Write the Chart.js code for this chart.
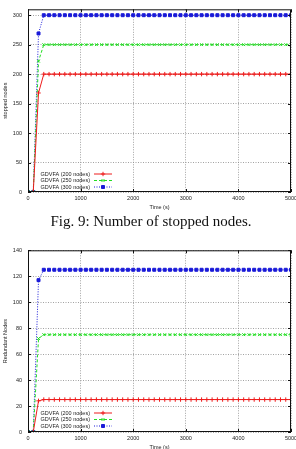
<!DOCTYPE html>
<html>
<head>
<meta charset="utf-8">
<script src="https://cdn.jsdelivr.net/npm/chart.js@4.4.0/dist/chart.umd.min.js"></script>
<style>
  html, body { margin: 0; padding: 0; background: #fff; overflow: hidden; width: 296px; height: 449px; }
  .box { position: absolute; left: 0; width: 310px; height: 215px; }
  #caption { position: absolute; left: 0; width: 302px; top: 213px; text-align: center;
             font: 15px/16px "Liberation Serif", "DejaVu Serif", serif; color: #111; }
</style>
</head>
<body>
<div class="box" style="top:0"><canvas id="stoppedChart"></canvas></div>
<div id="caption">Fig. 9: Number of stopped nodes.</div>
<div class="box" style="top:241px"><canvas id="redundantChart"></canvas></div>
<script>
// time axis (s), one sample every 100 s
const times = [
    0, 100, 200, 300, 400, 500, 600, 700, 800, 900,
    1000, 1100, 1200, 1300, 1400, 1500, 1600, 1700, 1800, 1900,
    2000, 2100, 2200, 2300, 2400, 2500, 2600, 2700, 2800, 2900,
    3000, 3100, 3200, 3300, 3400, 3500, 3600, 3700, 3800, 3900,
    4000, 4100, 4200, 4300, 4400, 4500, 4600, 4700, 4800, 4900, 5000
];

const seriesLabels = ['GDVFA (200 nodes)', 'GDVFA (250 nodes)', 'GDVFA (300 nodes)'];

const xTicks = [0, 1000, 2000, 3000, 4000, 5000];
const stoppedTicks = [0, 50, 100, 150, 200, 250, 300];
const redundantTicks = [0, 20, 40, 60, 80, 100, 120, 140];

// Fig. 9: stopped nodes
const stopped200 = [0, 0, 168,
    200, 200, 200, 200, 200, 200, 200, 200, 200, 200, 200, 200,
    200, 200, 200, 200, 200, 200, 200, 200, 200, 200, 200, 200,
    200, 200, 200, 200, 200, 200, 200, 200, 200, 200, 200, 200,
    200, 200, 200, 200, 200, 200, 200, 200, 200, 200, 200, 200];
const stopped250 = [0, 0, 222,
    250, 250, 250, 250, 250, 250, 250, 250, 250, 250, 250, 250,
    250, 250, 250, 250, 250, 250, 250, 250, 250, 250, 250, 250,
    250, 250, 250, 250, 250, 250, 250, 250, 250, 250, 250, 250,
    250, 250, 250, 250, 250, 250, 250, 250, 250, 250, 250, 250];
const stopped300 = [0, 0, 269,
    300, 300, 300, 300, 300, 300, 300, 300, 300, 300, 300, 300,
    300, 300, 300, 300, 300, 300, 300, 300, 300, 300, 300, 300,
    300, 300, 300, 300, 300, 300, 300, 300, 300, 300, 300, 300,
    300, 300, 300, 300, 300, 300, 300, 300, 300, 300, 300, 300];

// redundant nodes
const redundant200 = [0, 0, 24,
    25, 25, 25, 25, 25, 25, 25, 25, 25, 25, 25, 25,
    25, 25, 25, 25, 25, 25, 25, 25, 25, 25, 25, 25,
    25, 25, 25, 25, 25, 25, 25, 25, 25, 25, 25, 25,
    25, 25, 25, 25, 25, 25, 25, 25, 25, 25, 25, 25];
const redundant250 = [0, 0, 72,
    75, 75, 75, 75, 75, 75, 75, 75, 75, 75, 75, 75,
    75, 75, 75, 75, 75, 75, 75, 75, 75, 75, 75, 75,
    75, 75, 75, 75, 75, 75, 75, 75, 75, 75, 75, 75,
    75, 75, 75, 75, 75, 75, 75, 75, 75, 75, 75, 75];
const redundant300 = [0, 0, 117,
    125, 125, 125, 125, 125, 125, 125, 125, 125, 125, 125, 125,
    125, 125, 125, 125, 125, 125, 125, 125, 125, 125, 125, 125,
    125, 125, 125, 125, 125, 125, 125, 125, 125, 125, 125, 125,
    125, 125, 125, 125, 125, 125, 125, 125, 125, 125, 125, 125];

const FONT = '"Liberation Sans", Arial, sans-serif';
const SMALL = 5.5;

// gnuplot-like line styles: red solid +, green dashed x, blue dotted squares
const styles = [
    { color: '#ee1c1c', dash: [], point: 'cross', radius: 2.2 },
    { color: '#22dd22', dash: [3, 2], point: 'crossRot', radius: 2 },
    { color: '#1a1ad8', dash: [1, 1.5], point: 'rect', radius: 2.1 }
];

function makeDatasets(series) {
    return series.map((vals, i) => ({
        label: seriesLabels[i],
        data: vals.map((v, k) => ({ x: times[k], y: v })),
        borderColor: styles[i].color,
        backgroundColor: styles[i].color,
        borderWidth: 1,
        borderDash: styles[i].dash,
        pointStyle: styles[i].point,
        pointRadius: styles[i].radius,
        pointBorderWidth: 1,
        tension: 0
    }));
}

// box around the plot with inward tics
const frame = {
    id: 'frame',
    afterDraw(chart) {
        const { ctx, chartArea: a, scales } = chart;
        ctx.save();
        ctx.strokeStyle = '#111';
        ctx.lineWidth = 1;
        ctx.setLineDash([]);
        ctx.strokeRect(a.left + 0.5, a.top + 0.5, a.right - a.left - 1, a.bottom - a.top - 1);
        ctx.beginPath();
        scales.x.ticks.forEach(t => {
            const px = Math.round(scales.x.getPixelForValue(t.value)) + 0.5;
            ctx.moveTo(px, a.bottom); ctx.lineTo(px, a.bottom - 3);
            ctx.moveTo(px, a.top); ctx.lineTo(px, a.top + 3);
        });
        scales.y.ticks.forEach(t => {
            const py = Math.round(scales.y.getPixelForValue(t.value)) + 0.5;
            ctx.moveTo(a.left, py); ctx.lineTo(a.left + 3, py);
            ctx.moveTo(a.right, py); ctx.lineTo(a.right - 3, py);
        });
        ctx.stroke();
        ctx.restore();
    }
};

// key in the lower-left corner: text, then line sample with a marker
const insetLegend = {
    id: 'insetLegend',
    afterDatasetsDraw(chart, args, opts) {
        const { ctx, chartArea: a } = chart;
        ctx.save();
        ctx.font = SMALL + 'px ' + FONT;
        ctx.textAlign = 'right';
        ctx.textBaseline = 'middle';
        chart.data.datasets.forEach((ds, i) => {
            const y = a.bottom - opts.firstRow + i * opts.rowStep;
            ctx.fillStyle = '#222';
            ctx.fillText(ds.label, a.left + 62, y);
            ctx.strokeStyle = ds.borderColor;
            ctx.lineWidth = 1;
            ctx.setLineDash(ds.borderDash);
            ctx.beginPath();
            ctx.moveTo(a.left + 66, y);
            ctx.lineTo(a.left + 84, y);
            ctx.stroke();
            ctx.setLineDash([]);
            ctx.fillStyle = ds.backgroundColor;
            Chart.helpers.drawPoint(ctx, {
                pointStyle: ds.pointStyle, radius: ds.pointRadius,
                borderWidth: 1, rotation: 0
            }, a.left + 75, y);
        });
        ctx.restore();
    }
};

function makeChart(id, series, yTitle, yTicks, yMax, xHeight, xTitlePad, firstRow) {
    const tickFont = { family: FONT, size: SMALL };
    return new Chart(document.getElementById(id), {
        type: 'line',
        data: { datasets: makeDatasets(series) },
        plugins: [frame, insetLegend],
        options: {
            responsive: true,
            maintainAspectRatio: false,
            animation: false,
            layout: { padding: { top: 6, right: 19, left: 0, bottom: 0 } },
            plugins: {
                legend: { display: false },
                tooltip: { enabled: false },
                insetLegend: { firstRow: firstRow, rowStep: 6.5 }
            },
            scales: {
                x: {
                    type: 'linear',
                    min: xTicks[0], max: xTicks[xTicks.length - 1],
                    afterBuildTicks: s => { s.ticks = xTicks.map(v => ({ value: v })); },
                    ticks: { font: tickFont, color: '#222', padding: 3, maxRotation: 0,
                             callback: v => String(v) },
                    grid: { color: '#8a8a8a', lineWidth: 0.8, drawTicks: false },
                    border: { display: false, dash: [1, 1.5] },
                    title: { display: true, text: 'Time (s)', font: tickFont, color: '#222',
                             padding: { top: 0, bottom: xTitlePad } },
                    afterFit: s => { s.height = xHeight; }
                },
                y: {
                    min: yTicks[0], max: yMax,
                    afterBuildTicks: s => { s.ticks = yTicks.map(v => ({ value: v })); },
                    ticks: { font: tickFont, color: '#222', padding: 6, callback: v => String(v) },
                    grid: { color: '#8a8a8a', lineWidth: 0.8, drawTicks: false },
                    border: { display: false, dash: [1, 1.5] },
                    title: { display: true, text: yTitle, font: tickFont, color: '#222',
                             padding: { top: 2.5, bottom: 0 } },
                    afterFit: s => { s.width = 28; }
                }
            }
        }
    });
}

makeChart('stoppedChart', [stopped200, stopped250, stopped300], 'stopped nodes', stoppedTicks, 310, 23, 4.7, 18);
makeChart('redundantChart', [redundant200, redundant250, redundant300], 'Redundant Nodes', redundantTicks, 140, 24, 5.7, 19);
</script>
</body>
</html>
